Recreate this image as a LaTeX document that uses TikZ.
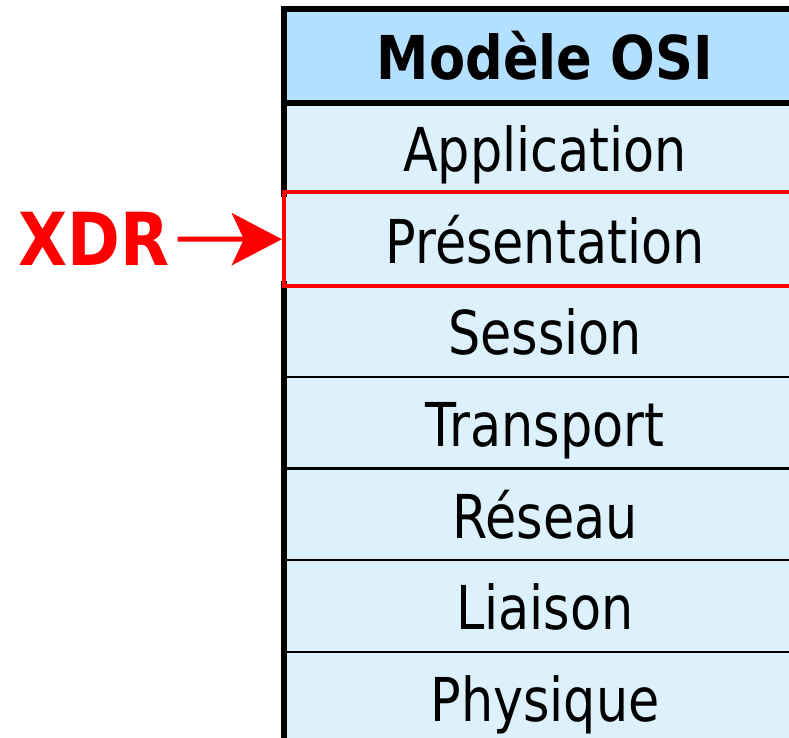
\documentclass[tikz,border=0pt]{standalone}
\usepackage{fontspec}
\setmainfont{DejaVu Sans}[FakeStretch=0.84, BoldFeatures={FakeStretch=0.87}]
\usetikzlibrary{arrows.meta,positioning}
\definecolor{headblue}{HTML}{B3E0FF}
\definecolor{rowblue}{HTML}{DDF1FD}
\definecolor{xdrred}{HTML}{FF0000}
\tikzset{
  layer/.style={draw, line width=1.5pt, fill=rowblue, minimum width=13cm,
    minimum height=2.2925cm, inner sep=0pt, text height=34pt, text depth=0pt,
    font=\fontsize{43}{50}\selectfont},
  title layer/.style={layer, fill=headblue, font=\fontsize{43}{50}\selectfont\bfseries},
  frame/.style={line width=4.3pt, line cap=rect},
  red frame/.style={draw=xdrred, line width=2.9pt},
  xdr label/.style={text=xdrred, inner sep=0.2cm, text height=38pt, text depth=0pt,
    font=\fontsize{52}{58}\selectfont\bfseries},
  xdr arrow/.style={-{Stealth[length=1.25cm, width=1.3cm, inset=0.3cm]}, xdrred,
    line width=3.5pt, shorten >=0.05cm},
}
\begin{document}
\begin{tikzpicture}[x=0.025cm, y=-0.025cm]
  \useasboundingbox (0,0) rectangle (789,737);
  \clip (0,0) rectangle (789,737);

  % Layers
  \node[title layer] (osi) at (545,55.85) {Modèle OSI};
  \node[layer] (app) at (545,147.55) {Application};
  \node[layer] (pres) at (545,239.25) {Présentation};
  \node[layer] (sess) at (545,330.95) {Session};
  \node[layer] (trans) at (545,422.65) {Transport};
  \node[layer] (res) at (545,514.35) {Réseau};
  \node[layer] (liai) at (545,606.05) {Liaison};
  \node[layer] (phys) at (545,697.75) {Physique};

  % Thick border
  \draw[frame] (osi.south west) -- (osi.north west) -- (osi.north east);
  \draw[frame] (osi.south west) -- (osi.south east);
  \draw[frame] (osi.south west) -- (app.south west);
  \draw[frame] (sess.north west) -- (phys.south west);

  % Highlighted layer
  \draw[red frame] (pres.south east) -- (pres.south west) -- (pres.north west) -- (pres.north east);

  % XDR
  \node[xdr label] (xdr) at (94,239) {XDR};
  \draw[xdr arrow] (xdr) -- (pres.west);
\end{tikzpicture}
\end{document}
